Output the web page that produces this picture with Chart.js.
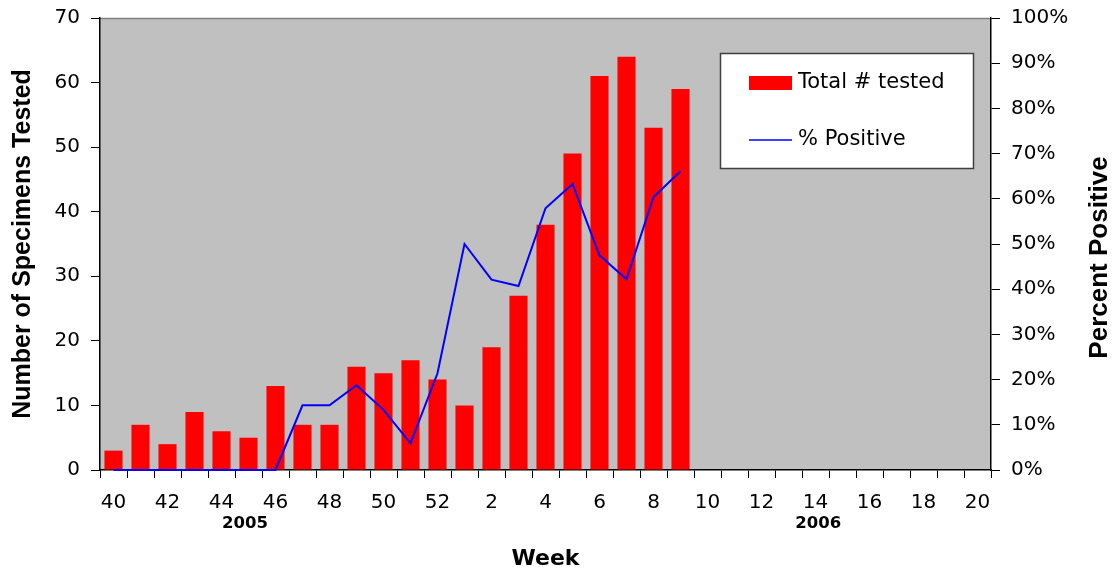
<!DOCTYPE html>
<html>
<head>
<meta charset="utf-8">
<script src="https://cdn.jsdelivr.net/npm/chart.js@4/dist/chart.umd.min.js"></script>
<style>
  html, body { margin: 0; padding: 0; background: #ffffff; }
  #wrap { width: 1112px; height: 567px; }
</style>
</head>
<body>
<div id="wrap"><canvas id="c" width="1112" height="567"></canvas></div>
<script>
// Surveillance weeks: 2005 weeks 40-52, then 2006 weeks 1-20
const weeks = ['40','41','42','43','44','45','46','47','48','49','50','51','52',
  '1','2','3','4','5','6','7','8','9','10','11','12','13','14','15','16','17','18','19','20'];

// Total number of specimens tested per week
const totalTested = [3, 7, 4, 9, 6, 5, 13, 7, 7, 16, 15, 17, 14,
  10, 19, 27, 38, 49, 61, 64, 53, 59, null, null, null, null, null, null, null, null, null, null, null];

// Percent of specimens positive per week
const pctPositive = [0, 0, 0, 0, 0, 0, 0, 14.3, 14.3, 18.75, 13.3, 5.9, 21.4,
  50, 42.1, 40.7, 57.9, 63.3, 47.5, 42.2, 60.4, 66.1, null, null, null, null, null, null, null, null, null, null, null];

// Season year labels under the week axis (position given as category index)
const yearLabels = ['2005', '2006'];
const yearPositions = [4.87, 26.1];

// Axis titles
const xTitle = 'Week';
const yTitle = 'Number of Specimens Tested';
const y1Title = 'Percent Positive';

const WIDE = '"DejaVu Sans", sans-serif';
const ARIAL = '"Liberation Sans", Arial, sans-serif';

const plotBackground = {
  id: 'plotBackground',
  beforeDraw(chart) {
    const { ctx, chartArea: a } = chart;
    ctx.save();
    ctx.fillStyle = '#c0c0c0';
    ctx.fillRect(a.left, a.top, a.right - a.left, a.bottom - a.top);
    ctx.strokeStyle = '#808080';
    ctx.lineWidth = 1.5;
    ctx.beginPath();
    ctx.moveTo(a.left, a.top + 0.5);
    ctx.lineTo(a.right, a.top + 0.5);
    ctx.stroke();
    ctx.restore();
  }
};

const titlesAndYears = {
  id: 'titlesAndYears',
  afterDraw(chart) {
    const { ctx, chartArea: a } = chart;
    const x = chart.scales.x;
    const midY = (a.top + a.bottom) / 2;
    ctx.save();
    ctx.fillStyle = '#000';
    ctx.textAlign = 'center';
    ctx.textBaseline = 'middle';
    ctx.font = 'bold 16.5px ' + WIDE;
    yearLabels.forEach((t, i) => {
      ctx.fillText(t, x.getPixelForValue(yearPositions[i]), 524);
    });
    ctx.font = 'bold 22px ' + WIDE;
    ctx.textBaseline = 'alphabetic';
    ctx.fillText(xTitle, (a.left + a.right) / 2, 565);
    ctx.textBaseline = 'middle';
    ctx.font = 'bold 25px ' + ARIAL;
    ctx.save();
    ctx.translate(23, midY);
    ctx.rotate(-Math.PI / 2);
    ctx.fillText(yTitle, 0, 0);
    ctx.restore();
    ctx.font = 'bold 26px ' + ARIAL;
    ctx.save();
    ctx.translate(1100, (155 + 360) / 2);
    ctx.rotate(-Math.PI / 2);
    ctx.fillText(y1Title, 0, 0);
    ctx.restore();
    ctx.restore();
  }
};

const boxLegend = {
  id: 'boxLegend',
  afterDraw(chart) {
    const { ctx } = chart;
    const bx = 720, by = 53, bw = 253, bh = 115;
    ctx.save();
    ctx.fillStyle = '#ffffff';
    ctx.fillRect(bx, by, bw, bh);
    ctx.strokeStyle = '#404040';
    ctx.lineWidth = 1.5;
    ctx.strokeRect(bx + 0.5, by + 0.5, bw, bh);
    const bars = chart.data.datasets.find(d => d.type === 'bar');
    const line = chart.data.datasets.find(d => d.type === 'line');
    ctx.font = '21px ' + WIDE;
    ctx.textBaseline = 'middle';
    ctx.fillStyle = bars.backgroundColor;
    ctx.fillRect(749, 76, 43, 14);
    ctx.fillStyle = '#000';
    ctx.fillText(bars.label, 798, 83);
    ctx.strokeStyle = line.borderColor;
    ctx.lineWidth = 1.5;
    ctx.beginPath();
    ctx.moveTo(749, 140);
    ctx.lineTo(792, 140);
    ctx.stroke();
    ctx.fillText(line.label, 798, 140);
    ctx.restore();
  }
};

function fixVertical(width) {
  return function (s) {
    s.width = width;
    s.paddingTop = 0;
    s.paddingBottom = 0;
  };
}

new Chart(document.getElementById('c'), {
  type: 'bar',
  data: {
    labels: weeks,
    datasets: [
      {
        type: 'bar',
        label: 'Total # tested',
        data: totalTested,
        yAxisID: 'y',
        backgroundColor: '#ff0000',
        borderWidth: 0,
        barPercentage: 0.67,
        categoryPercentage: 1.0,
        order: 1
      },
      {
        type: 'line',
        label: '% Positive',
        data: pctPositive,
        yAxisID: 'y1',
        borderColor: '#0000ff',
        borderWidth: 2,
        pointRadius: 0,
        fill: false,
        tension: 0,
        clip: false,
        order: 0
      }
    ]
  },
  options: {
    responsive: false,
    animation: false,
    events: [],
    layout: { padding: { top: 18, left: 0, right: 0, bottom: 0 } },
    plugins: { legend: { display: false }, tooltip: { enabled: false } },
    scales: {
      x: {
        offset: true,
        grid: { offset: true, drawOnChartArea: false, color: '#000', tickLength: 8, tickColor: '#000' },
        border: { color: '#000', width: 1.5 },
        ticks: {
          autoSkip: false, maxRotation: 0, color: '#000', padding: 13,
          font: { family: WIDE, size: 20 },
          callback(v, i) { return i % 2 === 0 ? weeks[i] : ''; }
        },
        afterFit(s) { s.height = 97; s.paddingLeft = 0; s.paddingRight = 0; }
      },
      y: {
        position: 'left',
        min: 0, max: 70,
        grid: { drawOnChartArea: false, color: '#000', tickLength: 9, tickColor: '#000' },
        border: { color: '#000', width: 1.5 },
        ticks: { stepSize: 10, color: '#000', padding: 11, font: { family: WIDE, size: 20 } },
        afterFit: fixVertical(100)
      },
      y1: {
        position: 'right',
        min: 0, max: 100,
        grid: { drawOnChartArea: false, color: '#000', tickLength: 9, tickColor: '#000' },
        border: { color: '#000', width: 1.5 },
        ticks: { stepSize: 10, color: '#000', padding: 11, font: { family: WIDE, size: 20 }, callback: v => v + '%' },
        afterFit: fixVertical(121)
      }
    }
  },
  plugins: [plotBackground, titlesAndYears, boxLegend]
});
</script>
</body>
</html>
